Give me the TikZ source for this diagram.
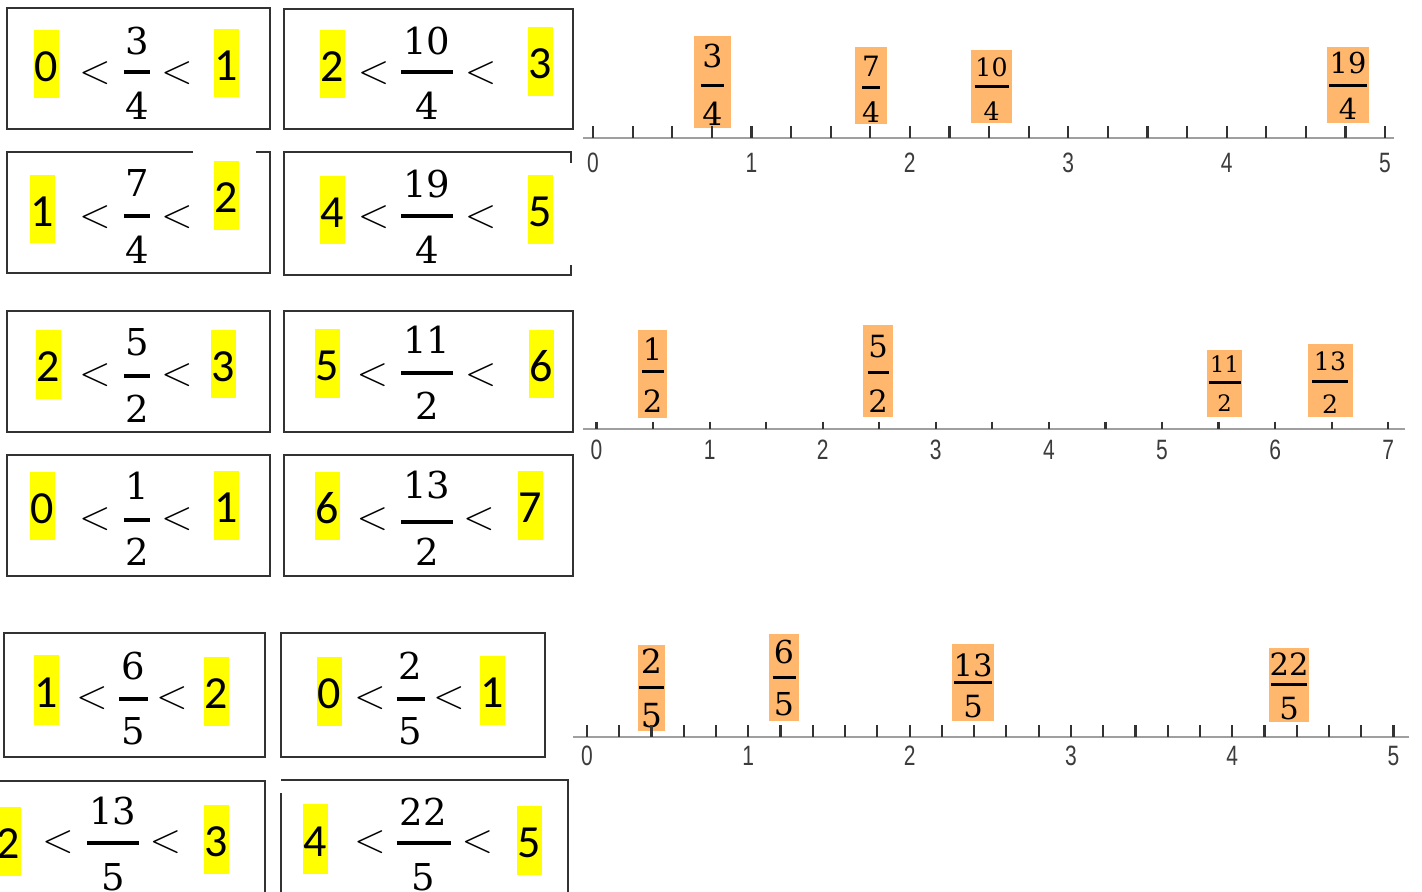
\documentclass[tikz,border=0pt]{standalone}
\usepackage{fontspec}
\newfontfamily\calib{Carlito}
\newfontfamily\labfont{Liberation Sans}
\newfontfamily\frfont{DejaVu Serif}
\definecolor{hlyellow}{RGB}{255,255,0}
\definecolor{orng}{RGB}{255,183,110}
\definecolor{boxline}{RGB}{50,50,50}
\definecolor{labgray}{RGB}{60,60,60}
\newcommand\myhd[6]{%
  \fill[hlyellow] (#2,#4) rectangle (#3,#5);
  \node[dig] (#1) at ({(#2+#3)/2},{(#4+#5)/2+2.5}) {#6};}
\newcommand\myfr[9][18.5pt]{%
  \node[font=\frfont\fontsize{#1}{#1}\selectfont, inner sep=0] (#2n) at (#3,#4) {#8};
  \draw[fbar] ({#3-#7},#5) -- ({#3+#7},#5);
  \node[font=\frfont\fontsize{#1}{#1}\selectfont, inner sep=0] (#2d) at (#3,#6) {#9};}
\begin{document}
\begin{tikzpicture}[x=0.5pt,y=-0.5pt,
  dig/.style={font=\calib\fontsize{23pt}{23pt}\selectfont, inner sep=0},
  ltn/.style={font=\fontsize{22pt}{22pt}\selectfont, inner sep=0},
  boxst/.style={draw=boxline, line width=1.25pt},
  fbar/.style={line width=2pt, black},
  axisst/.style={draw=gray!75, line width=1pt},
  tickst/.style={draw=black!80, line width=1.1pt},
  nlab/.style={font=\labfont\fontsize{14pt}{14pt}\selectfont, text=labgray, inner sep=0}]
\useasboundingbox (0,0) rectangle (1422,892);
\clip (0,0) rectangle (1422,892);
\fill[white] (0,0) rectangle (1422,892);

% ---------- boxes ----------
\draw[boxst] (7,8) rectangle (270,129);
\draw[boxst] (284,9) rectangle (573,129);
\draw[boxst] (193,152) -- (7,152) -- (7,273) -- (270,273) -- (270,152) -- (256,152);
\draw[boxst] (571,163) -- (571,152) -- (284,152) -- (284,275) -- (571,275) -- (571,265);
\draw[boxst] (7,311) rectangle (270,432);
\draw[boxst] (284,311) rectangle (573,432);
\draw[boxst] (7,455) rectangle (270,576);
\draw[boxst] (284,455) rectangle (573,576);
\draw[boxst] (4,633) rectangle (265,757);
\draw[boxst] (281,633) rectangle (545,757);
\draw[boxst] (-5,900) -- (-5,781) -- (265,781) -- (265,900);
\draw[boxst] (281,900) -- (281,793);
\draw[boxst] (281,780) -- (568,780) -- (568,900);

% ---------- highlighted whole numbers ----------
\myhd{Aa}{34}{59}{30}{98}{0} \myhd{Ab}{214}{239}{29}{97}{1}
\myhd{Ba}{320}{345}{30}{98}{2} \myhd{Bb}{528}{553}{27}{96}{3}
\myhd{Ca}{30}{55}{175}{243}{1} \myhd{Cb}{214}{239}{161}{230}{2}
\myhd{Da}{320}{345}{176}{244}{4} \myhd{Db}{528}{553}{175}{244}{5}
\myhd{Ea}{36}{61}{330}{399}{2} \myhd{Eb}{211}{236}{330}{398}{3}
\myhd{Fa}{315}{340}{329}{398}{5} \myhd{Fb}{529}{554}{330}{398}{6}
\myhd{Ga}{30}{55}{472}{540}{0} \myhd{Gb}{214}{239}{471}{540}{1}
\myhd{Ha}{315}{340}{472}{540}{6} \myhd{Hb}{518}{543}{471}{540}{7}
\myhd{Ia}{34}{59}{655}{725}{1} \myhd{Ib}{204}{229}{657}{726}{2}
\myhd{Ja}{317}{342}{657}{726}{0} \myhd{Jb}{480}{505}{656}{725}{1}
\myhd{Ka}{-4}{21}{807}{876}{2} \myhd{Kb}{204}{229}{805}{874}{3}
\myhd{La}{303}{328}{804}{874}{4} \myhd{Lb}{517}{542}{806}{875}{5}

% ---------- less-than signs ----------
\node[ltn] (Al1) at (95,73) {$<$};      \node[ltn] (Al2) at (177,73) {$<$};
\node[ltn] (Bl1) at (373.6,73) {$<$};   \node[ltn] (Bl2) at (480.6,73) {$<$};
\node[ltn] (Cl1) at (95,217) {$<$};     \node[ltn] (Cl2) at (177,217) {$<$};
\node[ltn] (Dl1) at (373.6,217) {$<$};  \node[ltn] (Dl2) at (480.6,217) {$<$};
\node[ltn] (El1) at (95,375.5) {$<$};   \node[ltn] (El2) at (177,375.5) {$<$};
\node[ltn] (Fl1) at (372.4,375.5) {$<$};\node[ltn] (Fl2) at (480.6,375.5) {$<$};
\node[ltn] (Gl1) at (95,519) {$<$};     \node[ltn] (Gl2) at (177,519) {$<$};
\node[ltn] (Hl1) at (372.4,519) {$<$};  \node[ltn] (Hl2) at (479,519) {$<$};
\node[ltn] (Il1) at (92,698.5) {$<$};   \node[ltn] (Il2) at (172,698.5) {$<$};
\node[ltn] (Jl1) at (370,698.5) {$<$};  \node[ltn] (Jl2) at (449,698.5) {$<$};
\node[ltn] (Kl1) at (58,842.5) {$<$};   \node[ltn] (Kl2) at (165.5,842.5) {$<$};
\node[ltn] (Ll1) at (370,842.5) {$<$};  \node[ltn] (Ll2) at (477.5,842.5) {$<$};

% ---------- fractions in boxes ----------
\myfr{Af}{137}{41}{72}{106}{13}{3}{4}
\myfr{Bf}{427}{41}{72}{106}{26}{10}{4}
\myfr{Cf}{137}{183.5}{216}{249.5}{13}{7}{4}
\myfr{Df}{427}{184}{216}{249.5}{26}{19}{4}
\myfr{Ef}{137}{342}{376}{409}{13}{5}{2}
\myfr{Ff}{427}{340}{373}{406}{26}{11}{2}
\myfr{Gf}{137}{485.5}{520}{552}{13}{1}{2}
\myfr{Hf}{427}{485.5}{522}{552}{26}{13}{2}
\myfr{If}{133.5}{666.5}{699}{731}{14.5}{6}{5}
\myfr{Jf}{410.5}{666}{699}{731}{14}{2}{5}
\myfr{Kf}{113}{811.5}{843}{877}{26}{13}{5}
\myfr{Lf}{423.5}{811.5}{843}{877}{27}{22}{5}

% ---------- orange fraction labels ----------
\begin{scope}[fbar/.style={line width=1.5pt, black}]
\fill[orng] (694,36) rectangle (731,128);   \myfr[15.8pt]{oa}{712.5}{56.5}{85.3}{113.3}{11.5}{3}{4}
\fill[orng] (855,47) rectangle (887,124);   \myfr[14pt]{ob}{871}{66.7}{88}{111.7}{9}{7}{4}
\fill[orng] (971,50) rectangle (1012,123);  \myfr[12.6pt]{oc}{991.5}{67.5}{86.7}{111}{17}{10}{4}
\fill[orng] (1327,47) rectangle (1369,123); \myfr[14.4pt]{od}{1348}{63}{85.7}{109}{19}{19}{4}
\fill[orng] (638,330) rectangle (667,418);  \myfr[15.3pt]{oe}{652.5}{349}{371.7}{401.5}{11}{1}{2}
\fill[orng] (863,325) rectangle (893,417);  \myfr[15.3pt]{of}{878}{346.5}{372.7}{401.5}{10.5}{5}{2}
\fill[orng] (1207,350) rectangle (1242,417);\myfr[11.3pt]{og}{1224.5}{364}{382.7}{403.3}{16}{11}{2}
\fill[orng] (1308,344) rectangle (1353,417);\myfr[12.6pt]{oh}{1330}{361}{381.7}{404}{18}{13}{2}
\fill[orng] (638,645) rectangle (665,731);  \myfr[16.6pt]{oi}{651.5}{661.5}{687.7}{715.5}{12.5}{2}{5}
\fill[orng] (769,634) rectangle (799,721);  \myfr[15.8pt]{oj}{784}{652}{677}{704.7}{11.5}{6}{5}
\fill[orng] (952,644) rectangle (994,721);  \myfr[15.3pt]{ok}{973}{665}{682.7}{707}{19}{13}{5}
\fill[orng] (1269,648) rectangle (1309,722);\myfr[15.3pt]{ol}{1289}{664}{684.3}{709}{18}{22}{5}
\end{scope}

% ---------- number line 1 (quarters) ----------
\draw[axisst] (583,138.3) -- (1394,138.3);
\foreach \i in {0,...,20} \draw[tickst] ({593+39.6*\i},126) -- ({593+39.6*\i},138.3);
\foreach \k in {0,...,5} \node[nlab] (na\k) at ({593+158.4*\k},163) {\scalebox{0.75}[1]{\k}};

% ---------- number line 2 (halves) ----------
\draw[axisst] (583,429.3) -- (1405,429.3);
\foreach \i in {0,...,14} \draw[tickst] ({596.5+56.55*\i},421.7) -- ({596.5+56.55*\i},429.3);
\foreach \k in {0,...,7} \node[nlab] (nb\k) at ({596.5+113.1*\k},450) {\scalebox{0.75}[1]{\k}};

% ---------- number line 3 (fifths) ----------
\draw[axisst] (573.3,736.7) -- (1409,736.7);
\foreach \i in {0,...,25} \draw[tickst] ({587+32.26*\i},725) -- ({587+32.26*\i},736.7);
\foreach \k in {0,...,5} \node[nlab] (nc\k) at ({587+161.3*\k},756) {\scalebox{0.75}[1]{\k}};
\end{tikzpicture}
\end{document}
